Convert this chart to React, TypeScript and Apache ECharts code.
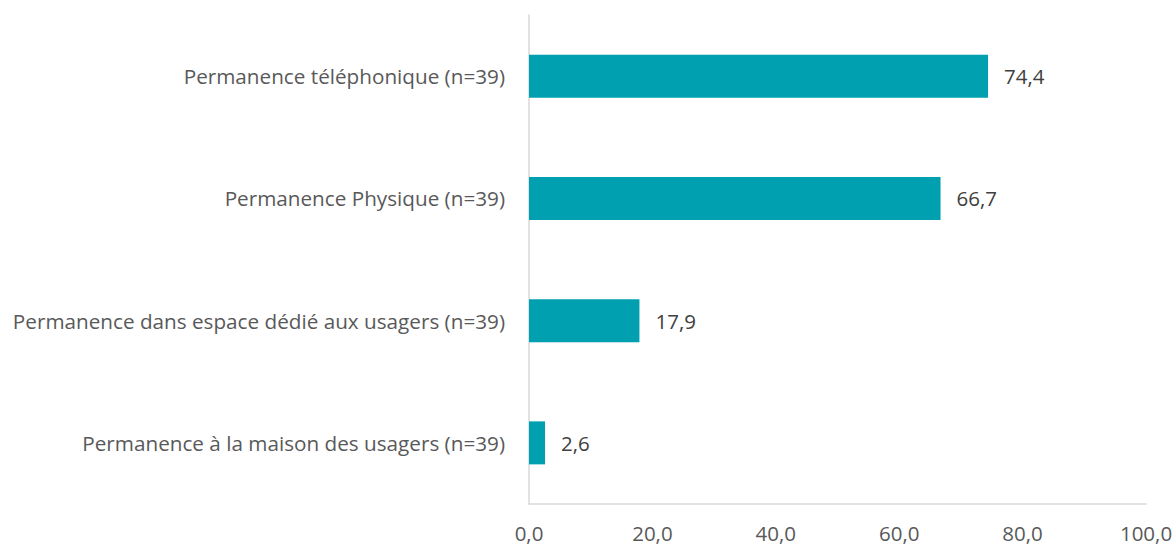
import React, { useEffect, useRef } from "react";
import * as echarts from "echarts";

const categories = [
  "Permanence à la maison des usagers (n=39)",
  "Permanence dans espace dédié aux usagers (n=39)",
  "Permanence Physique (n=39)",
  "Permanence téléphonique (n=39)",
];
const values = [2.6, 17.9, 66.7, 74.4];

const fmt = (v: number) => v.toFixed(1).replace(".", ",");

export default function App() {
  const ref = useRef<HTMLDivElement>(null);
  useEffect(() => {
    if (!ref.current) return;
    const chart = echarts.init(ref.current, null, { renderer: "svg" });
    chart.setOption({
      animation: false,
      backgroundColor: "#ffffff",
      textStyle: { fontFamily: "Open Sans" },
      grid: { left: 529, right: 30, top: 15, bottom: 42, containLabel: false },
      xAxis: {
        type: "value",
        min: 0,
        max: 100,
        interval: 20,
        axisLine: { show: true, lineStyle: { color: "#d9d9d9", width: 1.5 } },
        axisTick: { show: false },
        splitLine: { show: false },
        axisLabel: {
          formatter: (v: number) => fmt(v),
          color: "#595959",
          fontSize: 20.5,
          fontFamily: "Open Sans",
          margin: 18,
        },
      },
      yAxis: {
        type: "category",
        data: categories,
        axisLine: { show: true, lineStyle: { color: "#d9d9d9", width: 1.5 } },
        axisTick: { show: false },
        axisLabel: {
          color: "#595959",
          fontSize: 20.7,
          fontFamily: "Open Sans",
          margin: 24,
        },
      },
      series: [
        {
          type: "bar",
          data: values,
          barWidth: 43,
          itemStyle: { color: "#00A0B0" },
          label: {
            show: true,
            position: "right",
            distance: 16,
            formatter: (p: any) => fmt(p.value),
            color: "#404040",
            fontSize: 20.5,
            fontFamily: "Open Sans",
          },
        },
      ],
    });
    return () => chart.dispose();
  }, []);
  return (
    <div
      ref={ref}
      style={{ position: "fixed", left: 0, top: 0, width: 1176, height: 546 }}
    />
  );
}
